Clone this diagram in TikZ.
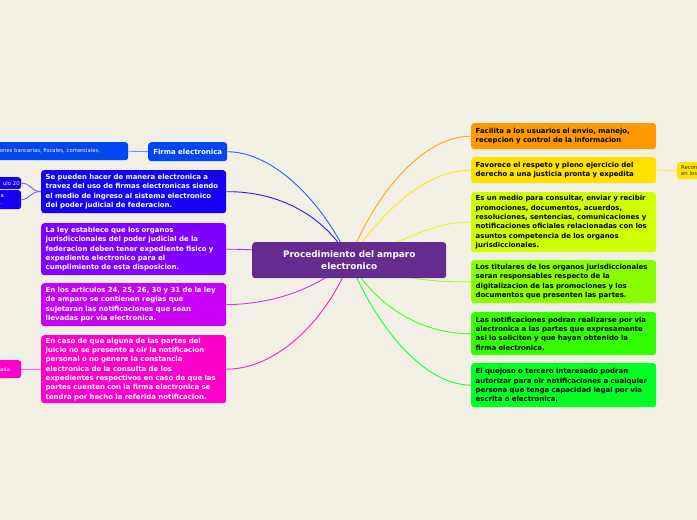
\documentclass[tikz,border=0pt]{standalone}
\usepackage{fontspec}
\setmainfont{DejaVu Sans}
\pgfdeclarelayer{bg}
\pgfsetlayers{bg,main}
\definecolor{paper}{HTML}{F2F0E4}
\definecolor{cpurple}{HTML}{662B8E}
\definecolor{cfirma}{HTML}{0047F0}
\definecolor{cblue}{HTML}{1700F2}
\definecolor{cviolet}{HTML}{7F00FF}
\definecolor{cmag}{HTML}{C800F5}
\definecolor{cpink}{HTML}{FF00CC}
\definecolor{corange}{HTML}{FF9900}
\definecolor{cyellow}{HTML}{FFE100}
\definecolor{cyg}{HTML}{D0FF00}
\definecolor{clg}{HTML}{88FF00}
\definecolor{cgreen}{HTML}{33FF00}
\definecolor{cgreen2}{HTML}{00FF22}
\tikzset{
  box/.style={rounded corners=3pt, inner xsep=4.5pt, inner ysep=0pt, anchor=north west, align=left,
    text width=176pt, minimum width=185pt,
    font=\bfseries\fontsize{6.95}{9.3}\selectfont},
  small/.style={rounded corners=3pt, inner sep=0pt, anchor=north west, align=left,
    font=\fontsize{5.3}{6.8}\selectfont},
  link/.style={line width=0.9pt}
}
\begin{document}
\begin{tikzpicture}[x=1pt,y=-1pt]
\useasboundingbox (0,0) rectangle (697,520);

% central node
\node[box, fill=cpurple, text=white, align=center, minimum width=194pt, text width=184pt, minimum height=36pt,
  font=\bfseries\fontsize{8.9}{12}\selectfont] (c) at (252,242) {Procedimiento del amparo\\ electronico};

% left nodes
\node[box, fill=cfirma, text=white, minimum width=78pt, text width=70pt, minimum height=19pt, align=center,
  font=\bfseries\fontsize{7}{9}\selectfont] (firma) at (148,142) {Firma electronica};
\node[small, fill=cfirma, text=white, minimum width=140pt, minimum height=18pt, text width=132pt] (fa) at (-12,142) {aciones bancarias, fiscales, comerciales,};

\node[box, fill=cblue, text=white, minimum height=43pt] (n2) at (41,170)
 {Se pueden hacer de manera electronica a\\ travez del uso de firmas electronicas siendo\\ el medio de ingreso al sistema electronico\\ del poder judicial de federacion.};
\node[small, fill=cblue, text=white, minimum width=41pt, minimum height=12pt, align=right, text width=38pt] (ua) at (-20,177) {ulo 20};
\node[small, fill=cblue, text=white, minimum width=41pt, minimum height=19pt, align=left, text width=41pt] (ub) at (-20,190) {\hspace*{20.5pt}a\\\hspace*{20.5pt}.};

\node[box, fill=cviolet, text=white, minimum height=52pt] (n3) at (41,223)
 {La ley establece que los organos\\ jurisdiccionales del poder judicial de la\\ federacion deben tener expediente fisico y\\ expediente electronico para el\\ cumplimiento de esta disposicion.};

\node[box, fill=cmag, text=white, minimum height=43pt] (n4) at (41,283)
 {En los articulos 24, 25, 26, 30 y 31 de la ley\\ de amparo se contienen reglas que\\ sujetaran las notificaciones que sean\\ llevadas por via electronica.};

\node[box, fill=cpink, text=white, minimum height=68pt] (n5) at (41,335)
 {En caso de que alguna de las partes del\\ juicio no se presente a oir la notificacion\\ personal o no genere la constancia\\ electronica de la consulta de los\\ expedientes respectivos en caso de que las\\ partes cuenten con la firma electronica se\\ tendra por hecho la referida notificacion.};
\node[small, fill=cpink, text=white, minimum width=41pt, minimum height=18pt, align=left, text width=41pt] (pa) at (-20,360) {\hspace*{20pt}ada};

% right nodes
\node[box, fill=corange, text=black, minimum height=26pt] (r1) at (471,123)
 {Facilita a los usuarios el envio, manejo,\\ recepcion y control de la informacion};
\node[box, fill=cyellow, text=black, minimum height=26pt] (r2) at (471,157)
 {Favorece el respeto y pleno ejercicio del\\ derecho a una justicia pronta y expedita};
\node[small, fill=cyellow, text=black!80, minimum width=35pt, minimum height=17pt, text width=35pt] (rr) at (677,162)
 {\hspace*{4pt}Recon\\\hspace*{4pt}en los};
\node[box, fill=cyg, text=black, minimum height=60pt] (r3) at (471,192)
 {Es un medio para consultar, enviar y recibir\\ promociones, documentos, acuerdos,\\ resoluciones, sentencias, comunicaciones y\\ notificaciones oficiales relacionadas con los\\ asuntos competencia de los organos\\ jurisdiccionales.};
\node[box, fill=clg, text=black, minimum height=43pt] (r4) at (471,260)
 {Los titulares de los organos jurisdiccionales\\ seran responsables respecto de la\\ digitalizacion de las promociones y los\\ documentos que presenten las partes.};
\node[box, fill=cgreen, text=black, minimum height=43pt] (r5) at (471,312)
 {Las notificaciones podran realizarse por via\\ electronica a las partes que expresamente\\ asi lo soliciten y que hayan obtenido la\\ firma electronica.};
\node[box, fill=cgreen2, text=black, minimum height=44pt] (r6) at (471,363)
 {El quejoso o tercero interesado podran\\ autorizar para oir notificaciones a cualquier\\ persona que tenga capacidad legal por via\\ escrita o electronica.};

% connectors
\begin{pgfonlayer}{bg}
\fill[paper] (0,0) rectangle (697,520);
\draw[link, color=cfirma!85] (c.center) .. controls (325,205) and (275,152) .. (firma.east);
\draw[link, color=cblue!90] (c.center) .. controls (330,222) and (285,191) .. (n2.east);
\draw[link, color=cviolet!80] (c.center) .. controls (300,252) and (250,249) .. (n3.east);
\draw[link, color=cmag!80] (c.center) .. controls (318,288) and (275,304) .. (n4.east);
\draw[link, color=cpink!90] (c.center) .. controls (335,305) and (285,369) .. (n5.east);
\draw[link, color=corange!90] (c.center) .. controls (372,200) and (420,136) .. (r1.west);
\draw[link, color=cyellow!90] (c.center) .. controls (382,212) and (425,170) .. (r2.west);
\draw[link, color=cyg!90] (c.center) .. controls (410,240) and (430,222) .. (r3.west);
\draw[link, color=clg!90] (c.center) .. controls (410,282) and (440,282) .. (r4.west);
\draw[link, color=cgreen!90] (c.center) .. controls (375,305) and (420,334) .. (r5.west);
\draw[link, color=cgreen2!90] (c.center) .. controls (372,318) and (420,385) .. (r6.west);
\draw[link, color=cfirma!60] (firma.west) -- (fa.east);
\draw[link, color=cblue!60] (n2.west) .. controls (30,191) and (31,183) .. (ua.east);
\draw[link, color=cblue!60] (n2.west) .. controls (30,191) and (31,199) .. (ub.east);
\draw[link, color=cpink!60] (n5.west) -- (pa.east);
\draw[link, color=cyellow!70] (r2.east) -- (rr.west);
\end{pgfonlayer}
\end{tikzpicture}
\end{document}
